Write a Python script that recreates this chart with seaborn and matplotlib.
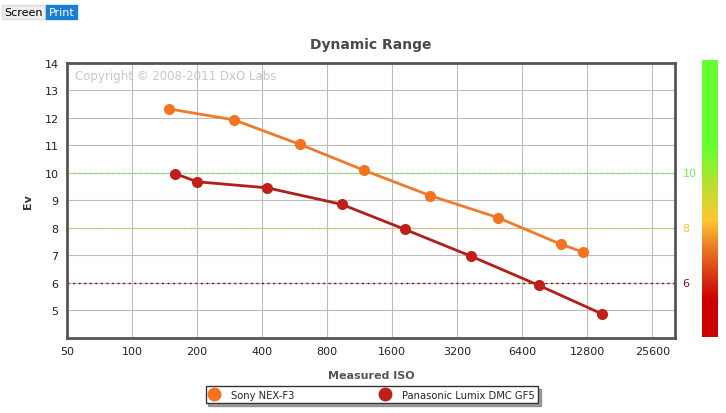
import numpy as np
import pandas as pd
import matplotlib
matplotlib.use('Agg')
import matplotlib.pyplot as plt
from matplotlib.colors import LinearSegmentedColormap
from matplotlib.ticker import FixedLocator, FixedFormatter, NullLocator
import seaborn as sns

# data
sony_iso = [148, 297, 598, 1183, 2392, 4920, 9640, 12270]
sony_ev = [12.33, 11.93, 11.04, 10.10, 9.18, 8.38, 7.41, 7.12]
pana_iso = [158, 200, 422, 933, 1831, 3690, 7650, 15020]
pana_ev = [9.98, 9.68, 9.46, 8.86, 7.95, 6.98, 5.91, 4.87]
names = ['Sony NEX-F3', 'Panasonic Lumix DMC GF5']
colors = ['#f47321', '#c0201a']
line_colors = ['#ef7a2c', '#b01f18']
iso_ticks = [50, 100, 200, 400, 800, 1600, 3200, 6400, 12800, 25600]
ev_ticks = list(range(5, 15))
ref_levels = [10, 8, 6]
ref_colors = ['#7fe85a', '#f5c842', '#8b0a0a']

df = pd.DataFrame({
    'iso': sony_iso + pana_iso,
    'ev': sony_ev + pana_ev,
    'camera': [names[0]] * len(sony_iso) + [names[1]] * len(pana_iso),
})

sns.set_style('white')
plt.rcParams['font.family'] = ['DejaVu Sans']

fig = plt.figure(figsize=(7.26, 4.14), dpi=100)
ax = fig.add_axes([0.0923, 0.1812, 0.8375, 0.6643])

sns.lineplot(data=df, x='iso', y='ev', hue='camera', palette=dict(zip(names, line_colors)),
             marker='o', markersize=8, markeredgewidth=0, linewidth=2, ax=ax, legend=False,
             sort=False)
# markers a touch brighter than the lines
for ln, c in zip(ax.get_lines(), colors):
    ln.set_markerfacecolor(c)

ax.set_xscale('log', base=2)
ax.set_xlim(50, 32600)
ax.set_ylim(4, 14)
ax.xaxis.set_major_locator(FixedLocator(iso_ticks))
ax.xaxis.set_major_formatter(FixedFormatter([str(t) for t in iso_ticks]))
ax.xaxis.set_minor_locator(NullLocator())
ax.set_yticks(ev_ticks)
ax.grid(True, color='#bdbdbd', linewidth=0.8)
ax.set_axisbelow(True)
ax.tick_params(labelsize=8, length=0, pad=6, colors='#222222')

for lvl, c in zip(ref_levels, ref_colors):
    ax.axhline(lvl, color=c, linestyle=(0, (1.5, 2.5)), linewidth=1, zorder=1.5)
    ax.text(1.012, lvl, str(lvl), transform=ax.get_yaxis_transform(), color=c,
            fontsize=8, va='center', ha='left')

for s in ax.spines.values():
    s.set_color('#555555')
    s.set_linewidth(2)

ax.set_xlabel('Measured ISO', fontsize=8, fontweight='bold', color='#555555', labelpad=10)
ax.set_ylabel('Ev', fontsize=8, fontweight='bold', color='#333333', labelpad=8)
ax.set_title('Dynamic Range', fontsize=10, fontweight='bold', color='#4a4a4a', pad=11)

ax.text(0.013, 0.955, 'Copyright \u00a9 2008-2011 DxO Labs', transform=ax.transAxes,
        fontsize=8.5, color='#c8c8c8', va='center', ha='left')

# colour scale on the right
cax = fig.add_axes([0.967, 0.1836, 0.022, 0.6691])
cmap = LinearSegmentedColormap.from_list('dr', [
    (0.0, '#cc0000'), (0.13, '#cc0000'), (0.2, '#d42a10'), (0.32, '#ea7a22'),
    (0.42, '#fcc832'), (0.55, '#b8e030'), (0.68, '#66ff33'), (1.0, '#66ff33')])
cax.imshow(np.linspace(0, 1, 256).reshape(-1, 1), aspect='auto', cmap=cmap, origin='lower')
cax.set_axis_off()

# legend box under the plot
handles = [plt.Line2D([], [], marker='o', linestyle='none', color=c, markersize=9) for c in colors]
leg = fig.legend(handles, names, loc='center', bbox_to_anchor=(0.512, 0.0435), ncol=2,
                 frameon=True, fancybox=False, shadow=True, fontsize=7.2,
                 columnspacing=8.5, handletextpad=1.2, borderpad=0.35, handlelength=1)
leg.get_frame().set_edgecolor('#333333')
leg.get_frame().set_linewidth(1)

# Screen / Print switch in the corner
fig.text(0.006, 0.969, 'Screen', fontsize=8, color='black', va='center', ha='left',
         bbox=dict(boxstyle='square,pad=0.2', facecolor='#eeeeee', edgecolor='#dddddd'))
fig.text(0.067, 0.969, 'Print', fontsize=8, color='white', va='center', ha='left',
         bbox=dict(boxstyle='square,pad=0.2', facecolor='#1a7fd4', edgecolor='#1a7fd4'))

fig.savefig('out.png', dpi=100)
